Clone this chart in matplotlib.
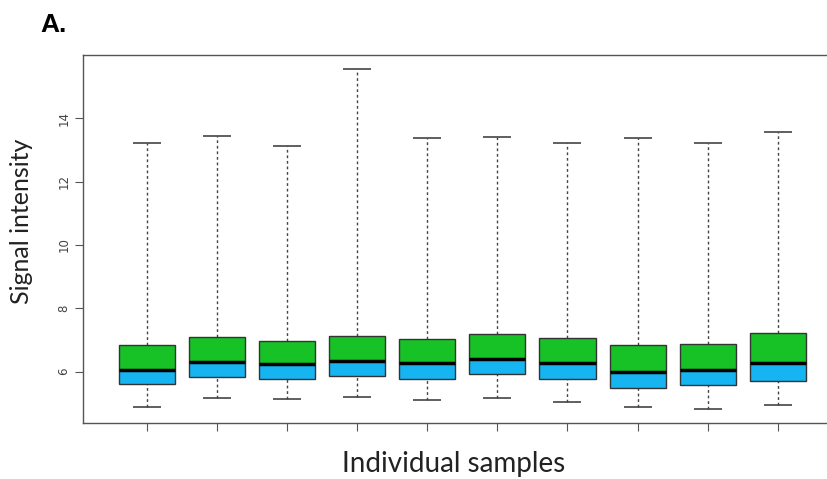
import matplotlib
matplotlib.use("Agg")
import matplotlib.pyplot as plt

# per-sample boxplot stats
samples = list(range(1, 11))
whisker_low = [4.88, 5.18, 5.15, 5.20, 5.11, 5.18, 5.03, 4.88, 4.81, 4.94]
q1 = [5.60, 5.84, 5.76, 5.87, 5.78, 5.93, 5.77, 5.49, 5.57, 5.70]
median = [6.06, 6.31, 6.23, 6.33, 6.27, 6.39, 6.28, 6.00, 6.06, 6.28]
q3 = [6.85, 7.10, 6.98, 7.14, 7.02, 7.19, 7.06, 6.83, 6.87, 7.23]
whisker_high = [13.21, 13.45, 13.14, 15.56, 13.37, 13.41, 13.23, 13.38, 13.23, 13.57]
yticks = [6, 8, 10, 12, 14]

green = '#17c226'
blue = '#16b4f0'
edge = '#333333'
box_w = 0.8
cap_w = 0.4

fig = plt.figure(figsize=(8.28, 4.79), dpi=100)
ax = fig.add_axes([83 / 828, 56 / 479, 755 / 828, 368 / 479])

lower = [m - a for m, a in zip(median, q1)]
upper = [b - m for b, m in zip(q3, median)]
ax.bar(samples, lower, bottom=q1, width=box_w, color=blue, edgecolor='none', zorder=2)
ax.bar(samples, upper, bottom=median, width=box_w, color=green, edgecolor='none', zorder=2)
# box outline
ax.bar(samples, [b - a for a, b in zip(q1, q3)], bottom=q1, width=box_w,
       fill=False, edgecolor=edge, linewidth=1.0, zorder=3)
ax.hlines(median, [s - box_w / 2 for s in samples], [s + box_w / 2 for s in samples],
          color='black', linewidth=2.5, zorder=4)

# whiskers and caps
ax.vlines(samples, q3, whisker_high, color='#444444', linestyle=(0, (2, 2)), linewidth=1.0, zorder=1)
ax.vlines(samples, whisker_low, q1, color='#444444', linestyle=(0, (2, 2)), linewidth=1.0, zorder=1)
ax.hlines(whisker_high, [s - cap_w / 2 for s in samples], [s + cap_w / 2 for s in samples],
          color='#444444', linewidth=1.2)
ax.hlines(whisker_low, [s - cap_w / 2 for s in samples], [s + cap_w / 2 for s in samples],
          color='#444444', linewidth=1.2)

ax.set_xlim(0.087, 10.86)
ax.set_ylim(4.38, 16.0)
ax.set_xticks(samples)
ax.set_xticklabels([])
ax.set_yticks(yticks)
ax.set_yticklabels([str(t) for t in yticks], rotation=90, va='center',
                   fontsize=8.5, color='#444444')
ax.tick_params(axis='both', length=6, width=0.8, color='#555555')
ax.tick_params(axis='y', pad=3)
for side in ['left', 'top', 'bottom']:
    ax.spines[side].set_color('#555555')
    ax.spines[side].set_linewidth(1.0)
ax.spines['right'].set_visible(False)

fig.text(22 / 828, (479 - 221) / 479, 'Signal intensity', rotation=90,
         ha='center', va='center', fontsize=18, family='Lato', color='#222222')
fig.text(454 / 828, (479 - 464) / 479, 'Individual samples',
         ha='center', va='center', fontsize=20, family='Lato', color='#222222')
fig.text(40 / 828, (479 - 32) / 479, 'A.', ha='left', va='baseline',
         fontsize=19, fontweight='bold', family='Liberation Sans', color='black')

fig.savefig('out.png', dpi=100)
